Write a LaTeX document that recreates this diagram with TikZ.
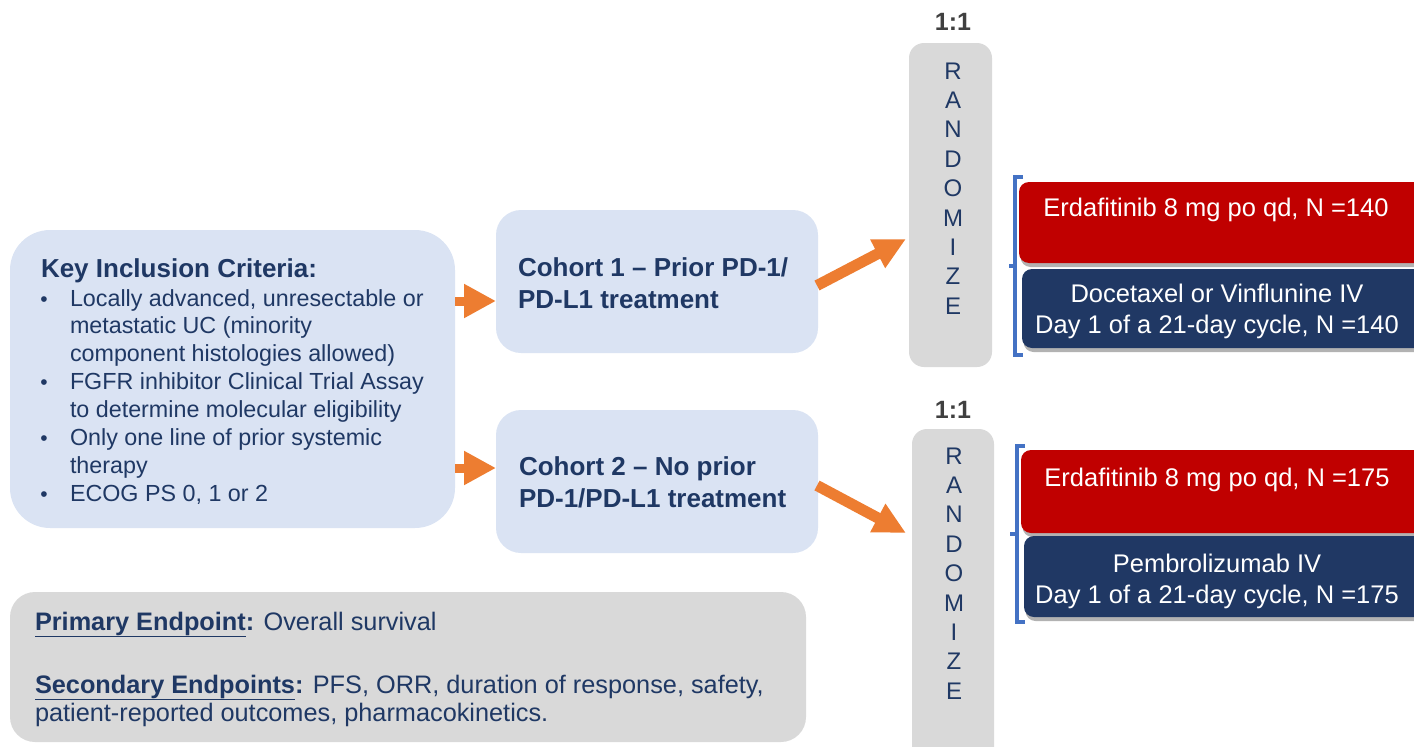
\documentclass[tikz,border=0pt]{standalone}
\usepackage{fontspec}
\setmainfont{Liberation Sans}
\usetikzlibrary{arrows.meta,shadows,calc}
\definecolor{lblue}{HTML}{DAE3F3}
\definecolor{navy}{HTML}{1F3864}
\definecolor{boxnavy}{HTML}{203864}
\definecolor{dred}{HTML}{C00000}
\definecolor{lgray}{HTML}{D9D9D9}
\definecolor{orng}{HTML}{ED7D31}
\definecolor{brkblue}{HTML}{4472C4}
\definecolor{dgray}{HTML}{404040}
\newcommand{\ulbold}[1]{\textbf{\setlength{\fboxsep}{0pt}\underline{#1}}}
\begin{document}
\begin{tikzpicture}[x=1pt,y=-1pt,
  every node/.style={inner sep=0pt, outer sep=0pt},
  panel/.style={fill=lblue, rounded corners=#1, anchor=north west},
  graybox/.style={fill=lgray, rounded corners=#1, anchor=north west},
  armbox/.style={fill=#1, rounded corners=10pt, anchor=north west, minimum width=410pt,
     drop shadow={shadow xshift=1.5pt, shadow yshift=-4pt, opacity=0.3, fill=black}},
  crit/.style={anchor=base west, text=navy, font=\fontsize{23.3}{27}\selectfont},
  critbul/.style={anchor=base, text=navy, font=\fontsize{21}{27}\selectfont},
  cohort/.style={anchor=base west, text=navy, font=\fontsize{26}{30}\selectfont\bfseries},
  letter/.style={anchor=base, text=navy, font=\fontsize{24}{28}\selectfont},
  ratio/.style={anchor=base, text=dgray, font=\fontsize{25}{29}\selectfont\bfseries},
  armtext/.style={anchor=base, text=white, font=\fontsize{25.5}{30}\selectfont},
  endp/.style={anchor=base west, text=navy, font=\fontsize{25.3}{28}\selectfont},
  smallarr/.style={draw=orng, line width=9pt, -{Triangle[length=32pt,width=32pt]}},
  bigarr/.style={draw=orng, line width=11pt, -{Triangle[length=32pt,width=30pt]}},
  brk/.style={draw=brkblue, line width=3.5pt}
]
\useasboundingbox (0,0) rectangle (1414,747);

% inclusion criteria panel
\node[panel=40pt, minimum width=445pt, minimum height=298pt] (inc) at (10,230) {};
\node[cohort] (inct) at (41,277) {Key Inclusion Criteria:};
\node[critbul] (b1) at (44,306) {•};
\node[crit] (l1) at (70,306) {Locally advanced, unresectable or};
\node[crit] (l2) at (70,333.9) {metastatic UC (minority};
\node[crit] (l3) at (70,361.8) {component histologies allowed)};
\node[critbul] (b2) at (44,389.7) {•};
\node[crit] (l4) at (70,389.7) {FGFR inhibitor Clinical Trial Assay};
\node[crit] (l5) at (70,417.6) {to determine molecular eligibility};
\node[critbul] (b3) at (44,445.5) {•};
\node[crit] (l6) at (70,445.5) {Only one line of prior systemic};
\node[crit] (l7) at (70,473.4) {therapy};
\node[critbul] (b4) at (44,501.3) {•};
\node[crit] (l8) at (70,501.3) {ECOG PS 0, 1 or 2};

% cohorts
\node[panel=25pt, minimum width=322pt, minimum height=143pt] (c1) at (496,210) {};
\node[cohort] (c1a) at (518,276) {Cohort 1 – Prior PD-1/};
\node[cohort] (c1b) at (518,308) {PD-L1 treatment};
\node[panel=25pt, minimum width=322pt, minimum height=143pt] (c2) at (496,410) {};
\node[cohort] (c2a) at (519,475) {Cohort 2 – No prior};
\node[cohort] (c2b) at (519,507) {PD-1/PD-L1 treatment};

% randomize boxes
\node[graybox=15pt, minimum width=83pt, minimum height=324pt] (r1) at (909,43) {};
\node[ratio] (q1) at (953,30) {1:1};
\foreach \l [count=\i] in {R,A,N,D,O,M,I,Z,E}
  \node[letter] (r1l\i) at (953,{79+29.4*(\i-1)}) {\l};
\node[graybox=15pt, minimum width=82pt, minimum height=340pt] (r2) at (912,429) {};
\node[ratio] (q2) at (953,418) {1:1};
\foreach \l [count=\i] in {R,A,N,D,O,M,I,Z,E}
  \node[letter] (r2l\i) at (954,{464+29.4*(\i-1)}) {\l};

% arms
\node[armbox=dred, minimum height=81pt] (e1) at (1019,182) {};
\node[armtext] (e1t) at (1216,216) {Erdafitinib 8 mg po qd, N =140};
\node[armbox=boxnavy, minimum height=79pt] (d1) at (1022,269) {};
\node[armtext] (d1a) at (1217,302) {Docetaxel or Vinflunine IV};
\node[armtext] (d1b) at (1217,333) {Day 1 of a 21-day cycle, N =140};
\node[armbox=dred, minimum height=83pt] (e2) at (1021,450) {};
\node[armtext] (e2t) at (1217,486) {Erdafitinib 8 mg po qd, N =175};
\node[armbox=boxnavy, minimum height=81pt] (p2) at (1024,536) {};
\node[armtext] (p2a) at (1217,572) {Pembrolizumab IV};
\node[armtext] (p2b) at (1217,603) {Day 1 of a 21-day cycle, N =175};

% brackets
\draw[brk] (1023,177) -- (1015,177) -- (1015,355) -- (1023,355);
\draw[brk] (1015,266) -- (1009,266);
\draw[brk] (1025,446) -- (1017,446) -- (1017,622) -- (1025,622);
\draw[brk] (1017,534) -- (1010,534);

% endpoints
\node[graybox=25pt, minimum width=796pt, minimum height=150pt] (ep) at (10,592) {};
\node[endp] (ep1) at (35,630) {\ulbold{Primary Endpoint}\textbf{:} Overall survival};
\node[endp] (ep2) at (35,693) {\ulbold{Secondary Endpoints}\textbf{:} PFS, ORR, duration of response, safety,};
\node[endp] (ep3) at (35,721) {patient-reported outcomes, pharmacokinetics.};

% arrows
\coordinate (a1s) at ($(inc.east |- 0,301)$);
\coordinate (a1e) at ($(c1.west |- 0,301)$);
\coordinate (a2s) at ($(inc.east |- 0,468)$);
\coordinate (a2e) at ($(c2.west |- 0,468)$);
\draw[smallarr] (a1s) -- (a1e);
\draw[smallarr] (a2s) -- (a2e);
\coordinate (b1s) at ($(c1.east)+(-1,4)$);
\coordinate (b1e) at ($(r1.west |- 0,239)+(-3,0)$);
\coordinate (b2s) at ($(c2.east)+(-1,4)$);
\coordinate (b2e) at ($(r2.west |- 0,533)+(-6,0)$);
\draw[bigarr] (b1s) -- (b1e);
\draw[bigarr] (b2s) -- (b2e);
\end{tikzpicture}
\end{document}
